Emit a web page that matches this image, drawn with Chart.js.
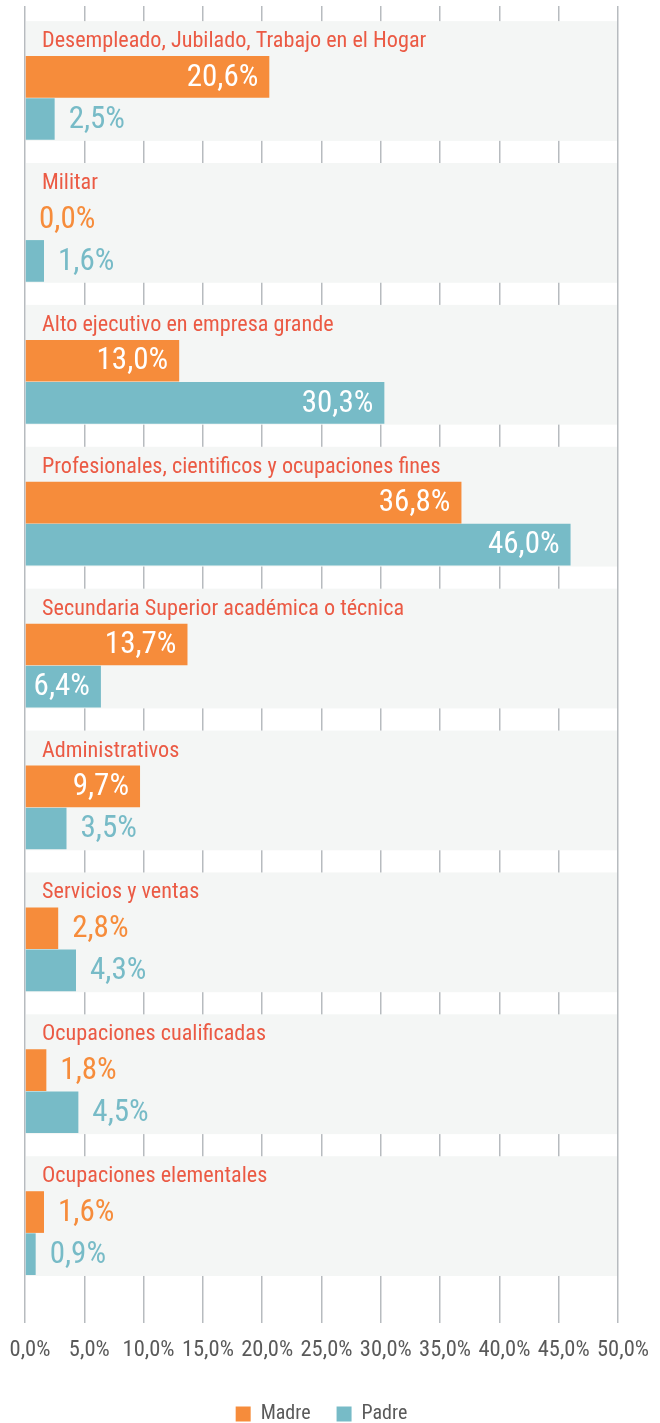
<!DOCTYPE html>
<html>
<head>
<meta charset="utf-8">
<script src="https://cdn.jsdelivr.net/npm/chart.js@4.4.1/dist/chart.umd.min.js"></script>
<style>
html,body{margin:0;padding:0;background:#ffffff;}
#wrap{width:660px;height:1423px;position:relative;}
</style>
</head>
<body>
<div id="wrap"><canvas id="c"></canvas></div>
<script>
// ---- DATA ----
const categories = [
  'Desempleado, Jubilado, Trabajo en el Hogar',
  'Militar',
  'Alto ejecutivo en empresa grande',
  'Profesionales, cientificos y ocupaciones fines',
  'Secundaria Superior académica o técnica',
  'Administrativos',
  'Servicios y ventas',
  'Ocupaciones cualificadas',
  'Ocupaciones elementales'
];
const madre = [20.6, 0.0, 13.0, 36.8, 13.7, 9.7, 2.8, 1.8, 1.6];
const padre = [2.5, 1.6, 30.3, 46.0, 6.4, 3.5, 4.3, 4.5, 0.9];
const seriesNames = ['Madre', 'Padre'];
const xTickLabels = ['0,0%','5,0%','10,0%','15,0%','20,0%','25,0%','30,0%','35,0%','40,0%','45,0%','50,0%'];

// ---- STYLE ----
const ORANGE = '#f68c3b';
const TEAL = '#77bbc7';
const TITLE = '#eb5a44';
const BAND = '#f4f6f5';
const GRID = '#b7bbbf';
const TEXT = '#5a5a5a';

function pickFont(list){
  const c = document.createElement('canvas').getContext('2d');
  const s = 'abcdefghijklmnopqrstuvwxyzABCDEFGH0123456789%,';
  c.font = '40px monospace'; const b1 = c.measureText(s).width;
  c.font = '40px serif'; const b2 = c.measureText(s).width;
  for (const f of list){
    c.font = '40px "' + f + '", monospace'; const w1 = c.measureText(s).width;
    c.font = '40px "' + f + '", serif'; const w2 = c.measureText(s).width;
    if (w1 !== b1 || w2 !== b2) return f;
  }
  return 'sans-serif';
}
const FONT = pickFont(['Liberation Sans Narrow','Arial Narrow','Roboto Condensed','Nimbus Sans Narrow','Roboto']);

function fmt(v){ return v.toFixed(1).replace('.', ',') + '%'; }

const bandPlugin = {
  id: 'bands',
  beforeDatasetsDraw(chart){
    const {ctx, scales:{x}} = chart;
    const mMeta = chart.getDatasetMeta(1), pMeta = chart.getDatasetMeta(2);
    const left = x.getPixelForValue(0), right = x.getPixelForValue(50);
    ctx.save();
    categories.forEach((cat, i) => {
      const m = mMeta.data[i], p = pMeta.data[i];
      const top = m.y - m.height/2 - 35;
      const bottom = p.y + p.height/2 + 1;
      ctx.fillStyle = BAND;
      ctx.fillRect(left + 1, top, right - left - 2, bottom - top);
      ctx.fillStyle = TITLE;
      ctx.font = '22.2px "' + FONT + '", sans-serif';
      ctx.textAlign = 'left';
      ctx.textBaseline = 'alphabetic';
      ctx.fillText(cat, left + 17, top + 26);
    });
    ctx.restore();
  },
  afterDatasetsDraw(chart){
    const {ctx} = chart;
    ctx.save();
    ctx.font = '31px "' + FONT + '", sans-serif';
    ctx.textBaseline = 'middle';
    [1, 2].forEach(di => {
      const meta = chart.getDatasetMeta(di);
      const ds = chart.data.datasets[di];
      meta.data.forEach((el, i) => {
        const v = ds.data[i];
        const t = fmt(v);
        if (v >= 5){
          ctx.textAlign = 'right';
          ctx.fillStyle = '#ffffff';
          ctx.fillText(t, el.x - 11, el.y + 1);
        } else {
          ctx.textAlign = 'left';
          ctx.fillStyle = ds.backgroundColor;
          ctx.fillText(t, el.x + 14, el.y + 1);
        }
      });
    });
    ctx.restore();
  }
};

new Chart(document.getElementById('c'), {
  type: 'bar',
  data: {
    labels: categories,
    datasets: [
      { label: '', data: categories.map(() => null), backgroundColor: 'rgba(0,0,0,0)' },
      { label: seriesNames[0], data: madre, backgroundColor: ORANGE, borderWidth: 0 },
      { label: seriesNames[1], data: padre, backgroundColor: TEAL, borderWidth: 0 }
    ]
  },
  options: {
    indexAxis: 'y',
    responsive: true,
    maintainAspectRatio: false,
    animation: false,
    devicePixelRatio: 1,
    layout: { padding: { left: 25, right: 42, top: 6, bottom: -11 } },
    datasets: { bar: { categoryPercentage: 0.89, barPercentage: 0.99 } },
    scales: {
      x: {
        min: 0, max: 50,
        afterFit: (s) => { s.paddingLeft = 0; s.paddingRight = 0; },
        ticks: {
          stepSize: 5, autoSkip: false, maxRotation: 0,
          callback: (v, i) => xTickLabels[i],
          color: TEXT, padding: 14, labelOffset: 5,
          font: { family: FONT, size: 22.5, lineHeight: 1.2 }
        },
        grid: { color: GRID, lineWidth: 1.5, tickLength: 40, drawTicks: true },
        border: { display: false }
      },
      y: { display: false, grid: { display: false } }
    },
    plugins: {
      legend: {
        position: 'bottom',
        labels: {
          filter: (item) => item.datasetIndex > 0,
          boxWidth: 15, boxHeight: 15, padding: 26,
          color: TEXT,
          font: { family: FONT, size: 20 }
        }
      },
      tooltip: { enabled: false }
    }
  },
  plugins: [bandPlugin]
});
</script>
</body>
</html>
